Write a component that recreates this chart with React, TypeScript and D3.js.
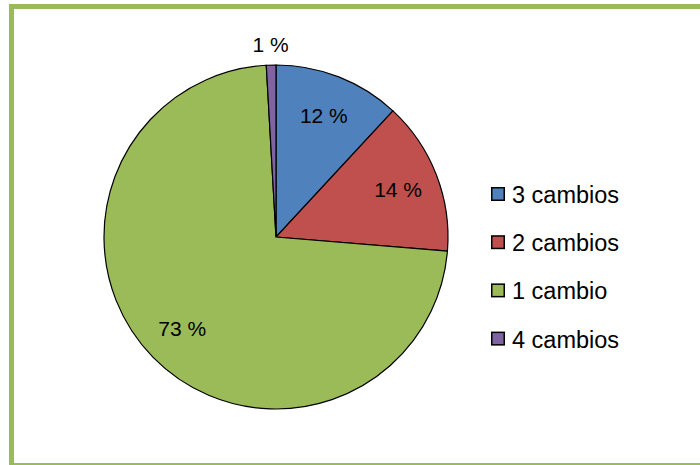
import React from "react";
import * as d3 from "d3";

const categories = ["3 cambios", "2 cambios", "1 cambio", "4 cambios"];
const values = [11.9, 14.4, 72.8, 0.9];
const colors = ["#4F81BD", "#C0504D", "#9BBB59", "#8064A2"];

const W = 700;
const H = 465;

export default function App() {
  const cx = 276;
  const cy = 237;
  const r = 172;
  const pie = d3.pie<number>().sort(null).value((d) => d)(values);
  const arc = d3.arc<d3.PieArcDatum<number>>().innerRadius(0).outerRadius(r);
  const total = d3.sum(values);
  const labelArc = d3.arc<d3.PieArcDatum<number>>().innerRadius(131).outerRadius(131);
  const outerArc = d3.arc<d3.PieArcDatum<number>>().innerRadius(r + 21).outerRadius(r + 21);
  const font = "'Liberation Sans', Arial, sans-serif";
  return (
    <svg width={W} height={H} style={{ position: "absolute", left: 0, top: 0 }}>
      <rect x={0} y={0} width={W} height={H} fill="#fff" />
      <rect x={11.5} y={6.5} width={W + 20} height={H - 6} fill="#fff" stroke="#9BBB59" strokeWidth={5} />
      <g transform={`translate(${cx},${cy})`}>
        {pie.map((p, i) => (
          <path key={i} d={arc(p) || ""} fill={colors[i]} stroke="#000" strokeWidth={1.2} />
        ))}
        {pie.map((p, i) => {
          const pct = (p.data / total) * 100;
          const small = pct < 3;
          const [x, y] = small ? outerArc.centroid(p) : labelArc.centroid(p);
          return (
            <text
              key={i}
              x={x}
              y={y}
              textAnchor="middle"
              dominantBaseline="central"
              fontFamily={font}
              fontSize={21}
              fill="#000"
            >
              {`${Math.round(pct)} %`}
            </text>
          );
        })}
      </g>
      <g transform="translate(491,195)">
        {categories.map((c, i) => (
          <g key={c} transform={`translate(0,${i * 48.2})`}>
            <rect x={0.75} y={-7.25} width={12.5} height={12.5} fill={colors[i]} stroke="#000" strokeWidth={1.5} />
            <text x={21} y={0} dominantBaseline="central" fontFamily={font} fontSize={23.5} fill="#000">
              {c}
            </text>
          </g>
        ))}
      </g>
    </svg>
  );
}
